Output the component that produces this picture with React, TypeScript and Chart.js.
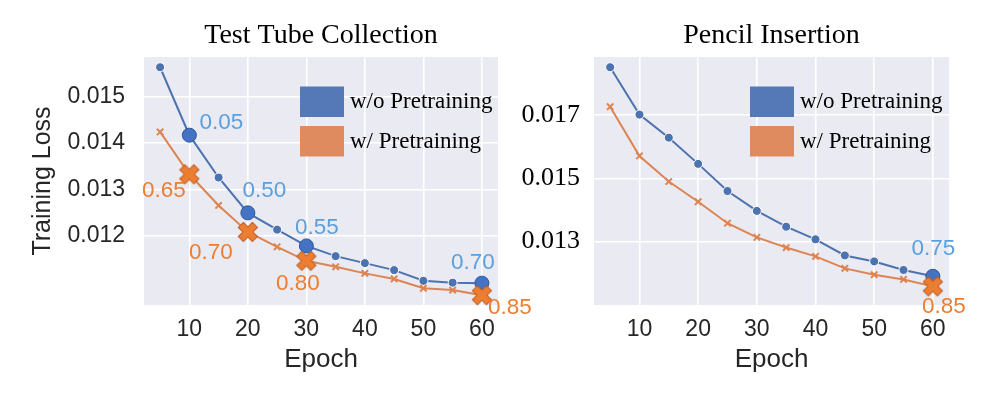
import React, { useEffect, useRef } from 'react';
import { Chart, registerables } from 'chart.js';

Chart.register(...registerables);

// ---------- data ----------
const epochs = [5, 10, 15, 20, 25, 30, 35, 40, 45, 50, 55, 60];
const seriesLabels = ['w/o Pretraining', 'w/ Pretraining'];

const tubeWithout = [0.01563, 0.01417, 0.01326, 0.0125, 0.01214, 0.01179, 0.01157, 0.01142, 0.01127, 0.01104, 0.011, 0.01099];
const tubeWith = [0.01424, 0.01333, 0.01266, 0.01209, 0.01177, 0.01147, 0.01134, 0.0112, 0.01108, 0.01088, 0.01084, 0.01073];
const pencilWithout = [0.01852, 0.01702, 0.01629, 0.01546, 0.0146, 0.01397, 0.01347, 0.01307, 0.01256, 0.01237, 0.0121, 0.0119];
const pencilWith = [0.01727, 0.01571, 0.0149, 0.01426, 0.01358, 0.01313, 0.01281, 0.01253, 0.01215, 0.01195, 0.0118, 0.01158];

const tubeMarked = [10, 20, 30, 60];
const pencilMarked = [60];
const tubeWithoutNotes = ['0.05', '0.50', '0.55', '0.70'];
const tubeWithNotes = ['0.65', '0.70', '0.80', '0.85'];
const pencilWithoutNotes = ['0.75'];
const pencilWithNotes = ['0.85'];

const xTicks = [10, 20, 30, 40, 50, 60];
const tubeYTicks = [0.012, 0.013, 0.014, 0.015];
const pencilYTicks = [0.013, 0.015, 0.017];

// ---------- styles / layout (not data) ----------
const BLUE = '#4C72B0';
const ORANGE = '#DD8452';
const BIG_BLUE = '#4472C4';
const BIG_ORANGE = '#ED7D31';
const NOTE_BLUE = '#5B9FDC';
const NOTE_ORANGE = '#ED7D31';
const LEGEND_BLUE = '#5579B6';
const LEGEND_ORANGE = '#E08A60';
const SANS = '"Liberation Sans", Arial, sans-serif';
const SERIF = '"Liberation Serif", "Times New Roman", serif';

// pixel offsets of each note's text centre from its marker
const tubeWithoutOffsets = [[32, -12.5], [16.5, -22], [10.5, -18], [-9, -20.5]];
const tubeWithOffsets = [[-25.5, 17], [-37, 21], [-8.5, 23], [28, 12.5]];
const pencilWithoutOffsets = [[0.5, -27.5]];
const pencilWithOffsets = [[11, 20]];

function makeXMarker(): HTMLCanvasElement {
  const size = 24;
  const c = document.createElement('canvas');
  c.width = size;
  c.height = size;
  const ctx = c.getContext('2d')!;
  ctx.translate(size / 2, size / 2);
  ctx.rotate(Math.PI / 4);
  const h = 10;
  const w = 3.6;
  ctx.beginPath();
  ctx.moveTo(-w, -h);
  ctx.lineTo(w, -h);
  ctx.lineTo(w, -w);
  ctx.lineTo(h, -w);
  ctx.lineTo(h, w);
  ctx.lineTo(w, w);
  ctx.lineTo(w, h);
  ctx.lineTo(-w, h);
  ctx.lineTo(-w, w);
  ctx.lineTo(-h, w);
  ctx.lineTo(-h, -w);
  ctx.lineTo(-w, -w);
  ctx.closePath();
  ctx.fillStyle = BIG_ORANGE;
  ctx.fill();
  ctx.lineWidth = 1;
  ctx.strokeStyle = '#B8602A';
  ctx.stroke();
  return c;
}

type Spec = {
  title: string;
  without: number[];
  withP: number[];
  marked: number[];
  withoutNotes: string[];
  withNotes: string[];
  withoutOffsets: number[][];
  withOffsets: number[][];
  yTicks: number[];
  yMin: number;
  yMax: number;
  yFont: { family: string; size: number };
  yColor: string;
  yPad: number;
  yWidth: number;
  yTitle?: string;
  canvasLeft: number;
  canvasWidth: number;
  padRight: number;
};

function buildConfig(s: Spec, xImg: HTMLCanvasElement): any {
  const isMarked = (c: any) => s.marked.includes(epochs[c.dataIndex]);

  const plotBg = {
    id: 'plotBg',
    beforeDraw(chart: any) {
      const { ctx, chartArea } = chart;
      ctx.save();
      ctx.fillStyle = '#EAEAF2';
      ctx.fillRect(chartArea.left, chartArea.top, chartArea.width, chartArea.height);
      ctx.restore();
    },
  };

  const notes = {
    id: 'notes',
    afterDatasetsDraw(chart: any) {
      const { ctx } = chart;
      const xs = chart.scales.x;
      const ys = chart.scales.y;
      ctx.save();
      ctx.font = `22.5px ${SANS}`;
      ctx.textAlign = 'center';
      ctx.textBaseline = 'middle';
      const groups = [
        { values: s.without, texts: s.withoutNotes, offsets: s.withoutOffsets, color: NOTE_BLUE },
        { values: s.withP, texts: s.withNotes, offsets: s.withOffsets, color: NOTE_ORANGE },
      ];
      for (const g of groups) {
        s.marked.forEach((ep, k) => {
          const i = epochs.indexOf(ep);
          const px = xs.getPixelForValue(ep) + g.offsets[k][0];
          const py = ys.getPixelForValue(g.values[i]) + g.offsets[k][1];
          ctx.fillStyle = g.color;
          ctx.fillText(g.texts[k], px, py);
        });
      }
      ctx.restore();
    },
  };

  const boxLegend = {
    id: 'boxLegend',
    afterDraw(chart: any) {
      const { ctx, chartArea } = chart;
      const x = chartArea.left + 156;
      const y0 = chartArea.top + 29.5;
      const colors = [LEGEND_BLUE, LEGEND_ORANGE];
      ctx.save();
      ctx.font = `23px ${SERIF}`;
      ctx.textAlign = 'left';
      ctx.textBaseline = 'middle';
      chart.data.datasets.forEach((ds: any, i: number) => {
        const y = y0 + i * 39.5;
        ctx.fillStyle = colors[i];
        ctx.fillRect(x, y, 44, 30.5);
        ctx.fillStyle = '#000';
        ctx.fillText(ds.label, x + 50, y + 15.5);
      });
      ctx.restore();
    },
  };

  return {
    type: 'line',
    data: {
      datasets: [
        {
          label: seriesLabels[0],
          data: epochs.map((e, i) => ({ x: e, y: s.without[i] })),
          borderColor: BLUE,
          borderWidth: 2,
          order: 2,
          clip: false,
          pointStyle: 'circle',
          pointRadius: (c: any) => (isMarked(c) ? 7 : 4.5),
          pointBackgroundColor: (c: any) => (isMarked(c) ? BIG_BLUE : BLUE),
          pointBorderColor: (c: any) => (isMarked(c) ? '#2F5597' : '#ffffff'),
          pointBorderWidth: 1,
        },
        {
          label: seriesLabels[1],
          data: epochs.map((e, i) => ({ x: e, y: s.withP[i] })),
          borderColor: ORANGE,
          borderWidth: 2,
          order: 1,
          clip: false,
          pointStyle: (c: any) => (isMarked(c) ? xImg : 'crossRot'),
          pointRadius: 4.5,
          pointBackgroundColor: ORANGE,
          pointBorderColor: ORANGE,
          pointBorderWidth: 2,
        },
      ],
    },
    options: {
      responsive: false,
      animation: false,
      events: [],
      layout: { padding: { left: 0, right: s.padRight, top: 0, bottom: 0 } },
      plugins: {
        legend: { display: false },
        tooltip: { enabled: false },
        title: {
          display: true,
          text: s.title,
          fullSize: false,
          color: '#000',
          font: { family: SERIF, size: 28, weight: 'normal' },
          padding: { top: 18.5, bottom: 4.9 },
        },
      },
      scales: {
        x: {
          type: 'linear',
          min: 2.25,
          max: 62.75,
          afterBuildTicks: (sc: any) => {
            sc.ticks = xTicks.map((v) => ({ value: v }));
          },
          afterFit: (sc: any) => {
            sc.height = 94;
          },
          grid: { color: '#ffffff', lineWidth: 1.6, drawTicks: false },
          border: { display: false },
          ticks: {
            padding: 11,
            color: '#262626',
            font: { family: SANS, size: 23 },
            callback: (v: any) => String(v),
          },
          title: {
            display: true,
            text: 'Epoch',
            color: '#262626',
            font: { family: SANS, size: 26 },
            padding: { top: 0, bottom: 24 },
          },
        },
        y: {
          type: 'linear',
          min: s.yMin,
          max: s.yMax,
          afterBuildTicks: (sc: any) => {
            sc.ticks = s.yTicks.map((v) => ({ value: v }));
          },
          afterFit: (sc: any) => {
            sc.width = s.yWidth;
          },
          grid: { color: '#ffffff', lineWidth: 1.6, drawTicks: false },
          border: { display: false },
          ticks: {
            padding: s.yPad,
            color: s.yColor,
            font: s.yFont,
            callback: (v: any) => Number(v).toFixed(3),
          },
          title: s.yTitle
            ? {
                display: true,
                text: s.yTitle,
                color: '#262626',
                font: { family: SANS, size: 25 },
                padding: { top: 28, bottom: 0 },
              }
            : { display: false },
        },
      },
    },
    plugins: [plotBg, notes, boxLegend],
  };
}

function LossChart({ spec }: { spec: Spec }) {
  const ref = useRef<HTMLCanvasElement>(null);
  useEffect(() => {
    if (!ref.current) return;
    const chart = new Chart(ref.current, buildConfig(spec, makeXMarker()));
    return () => chart.destroy();
  }, [spec]);
  return (
    <canvas
      ref={ref}
      width={spec.canvasWidth}
      height={399}
      style={{
        position: 'absolute',
        left: spec.canvasLeft,
        top: 0,
        width: spec.canvasWidth,
        height: 399,
      }}
    />
  );
}

const tubeSpec: Spec = {
  title: 'Test Tube Collection',
  without: tubeWithout,
  withP: tubeWith,
  marked: tubeMarked,
  withoutNotes: tubeWithoutNotes,
  withNotes: tubeWithNotes,
  withoutOffsets: tubeWithoutOffsets,
  withOffsets: tubeWithOffsets,
  yTicks: tubeYTicks,
  yMin: 0.01052,
  yMax: 0.01585,
  yFont: { family: SANS, size: 23 },
  yColor: '#262626',
  yPad: 19,
  yWidth: 144,
  yTitle: 'Training Loss',
  canvasLeft: 0,
  canvasWidth: 560,
  padRight: 62,
};

const pencilSpec: Spec = {
  title: 'Pencil Insertion',
  without: pencilWithout,
  withP: pencilWith,
  marked: pencilMarked,
  withoutNotes: pencilWithoutNotes,
  withNotes: pencilWithNotes,
  withoutOffsets: pencilWithoutOffsets,
  withOffsets: pencilWithOffsets,
  yTicks: pencilYTicks,
  yMin: 0.01099,
  yMax: 0.018845,
  yFont: { family: SERIF, size: 26 },
  yColor: '#000',
  yPad: 14,
  yWidth: 114,
  canvasLeft: 480,
  canvasWidth: 517,
  padRight: 48,
};

export default function App() {
  return (
    <div
      style={{
        position: 'absolute',
        left: 0,
        top: 0,
        width: 997,
        height: 399,
        overflow: 'hidden',
        background: '#ffffff',
      }}
    >
      <LossChart spec={tubeSpec} />
      <LossChart spec={pencilSpec} />
    </div>
  );
}
